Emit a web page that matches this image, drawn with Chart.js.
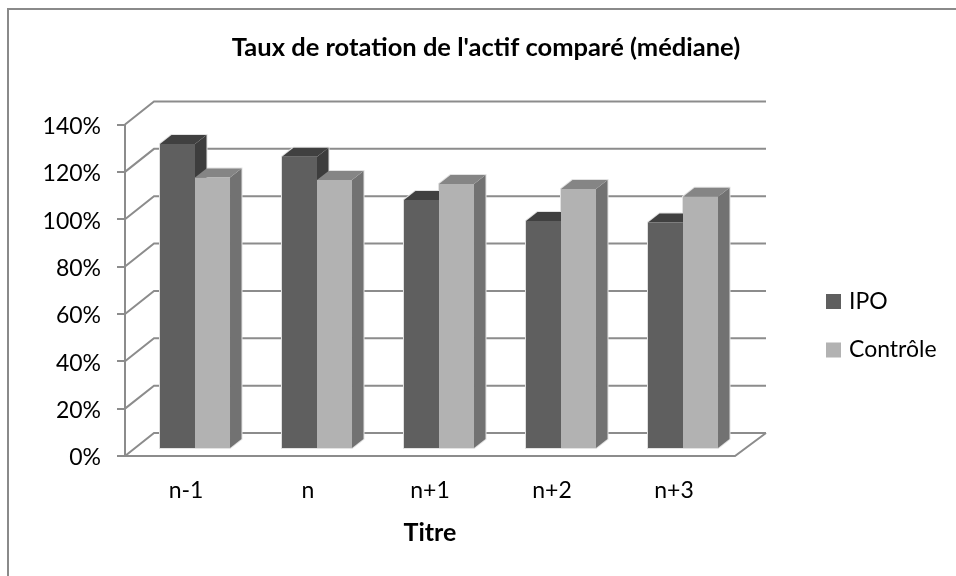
<!DOCTYPE html>
<html lang="fr">
<head>
<meta charset="UTF-8">
<title>Taux de rotation de l'actif comparé (médiane)</title>
<script src="https://cdn.jsdelivr.net/npm/chart.js"></script>
<style>
    html, body { margin: 0; padding: 0; background: #fff; overflow: hidden; }
    #frame { position: absolute; left: 7px; top: 8px; width: 949px; height: 568px;
             border-left: 2px solid #8a8a8a; border-top: 2px solid #8a8a8a; }
    #chart { position: absolute; left: 0; top: 0; }
</style>
</head>
<body>
<div id="frame"></div>
<canvas id="chart" width="956" height="576"></canvas>
<script>
const categories = ['n-1', 'n', 'n+1', 'n+2', 'n+3'];
const ipoValues = [128.8, 123.4, 105.2, 96.3, 95.7];
const controleValues = [114.7, 113.6, 111.9, 109.8, 106.5];

const fontName = 'Lato, "Open Sans", sans-serif';
const lineColor = '#8c8c8c';

// faces colours per dataset: top, side
const faces = [
    { top: '#404040', side: '#3d3d3d' },
    { top: '#858585', side: '#727272' }
];

function trace(ctx, pts) {
    ctx.beginPath();
    pts.forEach((p, i) => i ? ctx.lineTo(p[0], p[1]) : ctx.moveTo(p[0], p[1]));
    ctx.closePath();
}

function shape(ctx, pts, color) {
    ctx.fillStyle = color;
    trace(ctx, pts);
    ctx.fill();
}

const walls = {
    id: 'walls',
    afterLayout(chart) {
        const lg = chart.legend, pad = lg.options.labels.padding;
        lg.left = 829.5 - pad;
        lg.right = lg.left + 200;
        lg.top = 290 - pad;
        lg.bottom = lg.top + 260;
        chart.titleBlock.left += 118.5;
        chart.titleBlock.right += 118.5;
    },
    beforeDatasetsDraw(chart) {
        const { ctx, chartArea: a, scales: { y } } = chart;
        const dx = 29, dy = 23;
        ctx.save();
        ctx.strokeStyle = lineColor;
        ctx.lineWidth = 2;
        y.ticks.forEach(t => {
            const py = y.getPixelForValue(t.value);
            ctx.beginPath();
            ctx.moveTo(a.left, py);
            ctx.lineTo(a.left + dx, py - dy);
            ctx.lineTo(a.right + dx + 2, py - dy);
            ctx.stroke();
        });
        // floor front and right edge
        const y0 = y.getPixelForValue(0);
        ctx.beginPath();
        ctx.moveTo(a.left - 8, y0);
        ctx.lineTo(a.right, y0);
        ctx.lineTo(a.right + dx + 2, y0 - dy);
        ctx.stroke();
        ctx.restore();

        // bars sit in the middle of the floor depth
        ctx.save();
        ctx.translate(9, -7);
        const bx = 11.5, by = 9;
        // pale rim around each bar, as in the original 3D rendering
        ctx.strokeStyle = '#e2e2e2';
        ctx.lineWidth = 2;
        chart.data.datasets.forEach((ds, i) => {
            chart.getDatasetMeta(i).data.forEach(b => {
                const l = b.x - b.width / 2, r = b.x + b.width / 2;
                trace(ctx, [[l, b.base], [l, b.y], [l + bx, b.y - by], [r + bx, b.y - by], [r + bx, b.base - by], [r, b.base]]);
                ctx.stroke();
            });
        });
        chart.data.datasets.forEach((ds, i) => {
            chart.getDatasetMeta(i).data.forEach(b => {
                const l = b.x - b.width / 2, r = b.x + b.width / 2;
                shape(ctx, [[r, b.y], [r + bx, b.y - by], [r + bx, b.base - by], [r, b.base]], faces[i].side);
                shape(ctx, [[l, b.y], [l + bx, b.y - by], [r + bx, b.y - by], [r, b.y]], faces[i].top);
            });
        });
    },
    afterDatasetsDraw(chart) {
        chart.ctx.restore();
    }
};

new Chart(document.getElementById('chart'), {
    type: 'bar',
    data: {
        labels: categories,
        datasets: [
            { label: 'IPO', data: ipoValues, backgroundColor: '#5f5f5f' },
            { label: 'Contrôle', data: controleValues, backgroundColor: '#b2b2b2' }
        ]
    },
    plugins: [walls],
    options: {
        responsive: false,
        animation: false,
        categoryPercentage: 0.574,
        barPercentage: 1,
        layout: { padding: { left: 0, right: 221, top: 0, bottom: 0 } },
        plugins: {
            title: {
                display: true,
                text: "Taux de rotation de l'actif comparé (médiane)",
                color: '#000',
                font: { family: fontName, size: 25.5, weight: 'bold', lineHeight: 1.2 },
                padding: { top: 32, bottom: 61.9 }
            },
            legend: {
                position: 'chartArea',
                align: 'start',
                labels: {
                    color: '#000',
                    font: { family: fontName, size: 23 },
                    boxWidth: 8,
                    boxHeight: 8,
                    padding: 25.5,
                    generateLabels(chart) {
                        return chart.data.datasets.map((ds, i) => ({
                            text: ds.label,
                            fillStyle: ds.backgroundColor,
                            strokeStyle: ds.backgroundColor,
                            lineWidth: 7,
                            datasetIndex: i
                        }));
                    }
                }
            },
            tooltip: { enabled: false }
        },
        scales: {
            x: {
                afterFit(scale) { scale.height = 120; },
                grid: { display: false, drawTicks: false },
                border: { display: false },
                ticks: { color: '#000', font: { family: fontName, size: 23 }, padding: 21, maxRotation: 0 },
                title: {
                    display: true,
                    text: 'Titre',
                    color: '#000',
                    font: { family: fontName, size: 25, weight: 'bold', lineHeight: 1.2 },
                    padding: { top: 0, bottom: 28 }
                }
            },
            y: {
                min: 0,
                max: 140,
                afterFit(scale) { scale.width = 125; },
                grid: { drawOnChartArea: false, color: lineColor, lineWidth: 2, tickLength: 8 },
                border: { color: lineColor, width: 2 },
                ticks: {
                    stepSize: 20,
                    color: '#000',
                    font: { family: fontName, size: 23 },
                    padding: 16,
                    labelOffset: 2,
                    callback: v => v + '%'
                }
            }
        }
    }
});
</script>
</body>
</html>
